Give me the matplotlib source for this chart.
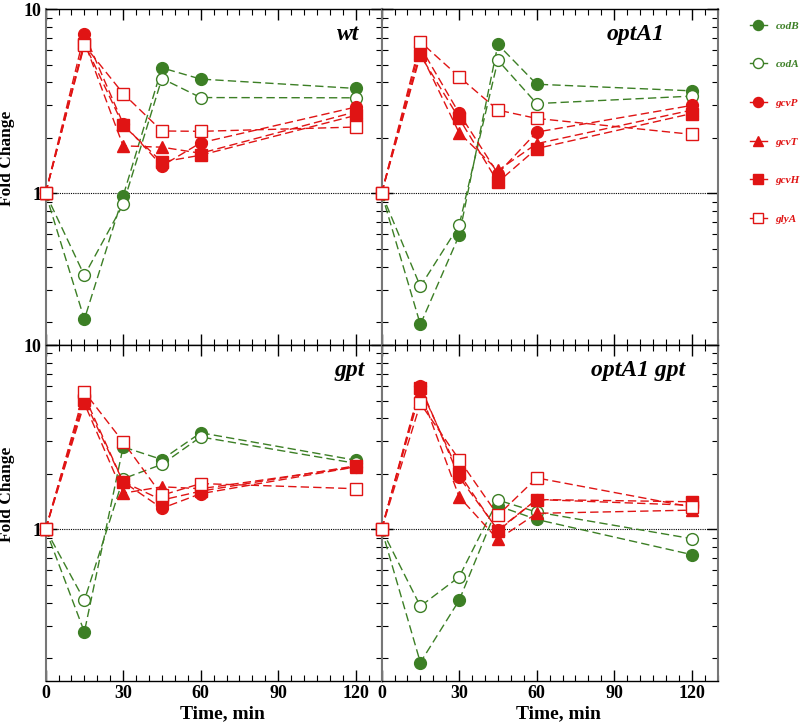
import numpy as np
import matplotlib
matplotlib.use("Agg")
import matplotlib.pyplot as plt
from matplotlib.ticker import FixedLocator, MultipleLocator, NullFormatter

plt.rcParams['font.family'] = ['Liberation Serif', 'DejaVu Serif']
plt.rcParams['font.weight'] = 'bold'

GREEN = '#3c7f25'
RED = '#e01414'

# time points (min)
time = [0, 15, 30, 45, 60, 120]

genes = ['codB', 'codA', 'gcvP', 'gcvT', 'gcvH', 'glyA']
panel_titles = ['wt', 'optA1', 'gpt', 'optA1 gpt']

# fold change values, one list per gene, per strain
wt = {
    'codB': [1, 0.207, 0.967, 4.80, 4.17, 3.71],
    'codA': [1, 0.358, 0.871, 4.20, 3.31, 3.30],
    'gcvP': [1, 7.31, 2.39, 1.41, 1.88, 2.94],
    'gcvT': [1, 6.64, 1.81, 1.78, 1.65, 2.77],
    'gcvH': [1, 6.50, 2.34, 1.48, 1.61, 2.65],
    'glyA': [1, 6.37, 3.48, 2.18, 2.17, 2.29],
}
optA1 = {
    'codB': [1, 0.194, 0.591, 6.43, 3.91, 3.60],
    'codA': [1, 0.312, 0.670, 5.28, 3.07, 3.37],
    'gcvP': [1, 6.24, 2.72, 1.28, 2.15, 3.00],
    'gcvT': [1, 5.80, 2.13, 1.33, 1.86, 2.83],
    'gcvH': [1, 5.62, 2.55, 1.15, 1.75, 2.71],
    'glyA': [1, 6.64, 4.29, 2.83, 2.55, 2.09],
}
gpt = {
    'codB': [1, 0.277, 2.80, 2.39, 3.34, 2.37],
    'codA': [1, 0.411, 1.88, 2.25, 3.17, 2.28],
    'gcvP': [1, 5.28, 1.81, 1.30, 1.56, 2.18],
    'gcvT': [1, 4.82, 1.57, 1.70, 1.66, 2.18],
    'gcvH': [1, 5.02, 1.81, 1.44, 1.61, 2.21],
    'glyA': [1, 5.57, 2.98, 1.53, 1.77, 1.66],
}
optA1_gpt = {
    'codB': [1, 0.189, 0.411, 1.34, 1.13, 0.728],
    'codA': [1, 0.382, 0.551, 1.44, 1.24, 0.889],
    'gcvP': [1, 5.98, 1.92, 0.99, 1.45, 1.35],
    'gcvT': [1, 5.57, 1.50, 0.88, 1.22, 1.27],
    'gcvH': [1, 5.82, 2.01, 0.98, 1.45, 1.41],
    'glyA': [1, 4.82, 2.39, 1.19, 1.90, 1.32],
}
strains = [wt, optA1, gpt, optA1_gpt]

# marker style per gene: (marker, color, filled)
styles = {
    'codB': ('o', GREEN, True),
    'codA': ('o', GREEN, False),
    'gcvP': ('o', RED, True),
    'gcvT': ('^', RED, True),
    'gcvH': ('s', RED, True),
    'glyA': ('s', RED, False),
}

fig = plt.figure(figsize=(8.0, 7.24), dpi=100)
left, bottom = 0.057, 0.0594
w, h = 0.42, 0.464
positions = [(left, bottom + h), (left + w, bottom + h), (left, bottom), (left + w, bottom)]
title_x = [0.935, 0.843, 0.950, 0.903]

axes = []
for i, (data, pos) in enumerate(zip(strains, positions)):
    ax = fig.add_axes([pos[0], pos[1], w, h])
    axes.append(ax)
    ax.axhline(1, color='black', lw=0.8, ls=(0, (1, 1)), zorder=1)
    for g in genes:
        m, c, filled = styles[g]
        ax.plot(time, data[g], ls=(0, (6, 3)), lw=1.0, color=c, marker=m,
                markersize=8.5 if m != '^' else 9,
                markerfacecolor=c if filled else 'white',
                markeredgecolor=c, markeredgewidth=1.0, label=g, clip_on=False, zorder=3)
    ax.set_yscale('log')
    ax.set_ylim(0.15, 10)
    ax.set_xlim(0, 130)
    ax.xaxis.set_major_locator(FixedLocator([0, 30, 60, 90, 120]))
    ax.xaxis.set_minor_locator(MultipleLocator(5))
    ax.yaxis.set_major_locator(FixedLocator([1, 10]))
    ax.yaxis.set_minor_locator(FixedLocator([0.2, 0.3, 0.4, 0.5, 0.6, 0.7, 0.8, 0.9,
                                             2, 3, 4, 5, 6, 7, 8, 9]))
    ax.yaxis.set_minor_formatter(NullFormatter())
    ax.tick_params(which='both', direction='in', top=True, right=True, labelsize=13, pad=3)
    ax.tick_params(which='major', length=8, width=1.0)
    ax.tick_params(which='minor', length=4, width=0.8)
    for s in ['left', 'right']:
        ax.spines[s].set_color('#777777')
        ax.spines[s].set_linewidth(1.5)
    for s in ['top', 'bottom']:
        ax.spines[s].set_linewidth(1.0)
    if i % 2 == 0:
        ax.set_yticklabels(['1', '10'])
        ax.set_ylabel('Fold Change', fontsize=12.5, fontweight='bold')
        ax.yaxis.set_label_coords(-0.09, 0.555)
    else:
        ax.set_yticklabels([])
    if i < 2:
        ax.set_xticklabels([])
    else:
        ax.set_xlabel('Time, min', fontsize=14, fontweight='bold')
        ax.xaxis.set_label_coords(0.525, -0.072)
    ax.text(title_x[i], 0.925, panel_titles[i], transform=ax.transAxes,
            ha='right', va='center', fontsize=17, fontstyle='italic', fontweight='bold')

handles, labels = axes[0].get_legend_handles_labels()
leg = fig.legend(handles, labels, loc='upper left', bbox_to_anchor=(0.925, 0.985),
                 frameon=False, fontsize=8, handlelength=1.5, handletextpad=0.8,
                 labelspacing=2.6, markerscale=0.85)
for txt, g in zip(leg.get_texts(), labels):
    txt.set_color(styles[g][1])
    txt.set_fontstyle('italic')
for lh in leg.get_lines():
    lh.set_linestyle('-')

fig.savefig('out.png', dpi=100)
